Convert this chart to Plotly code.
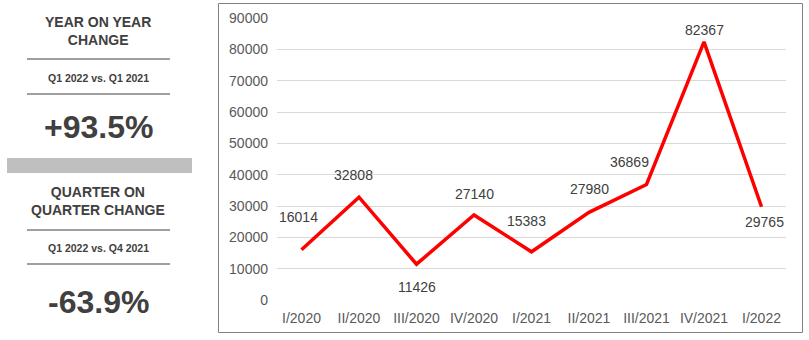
import plotly.graph_objects as go

categories = ["I/2020", "II/2020", "III/2020", "IV/2020", "I/2021", "II/2021", "III/2021", "IV/2021", "I/2022"]
values = [16014, 32808, 11426, 27140, 15383, 27980, 36869, 82367, 29765]
y_ticks = [0, 10000, 20000, 30000, 40000, 50000, 60000, 70000, 80000, 90000]

yoy_title = "YEAR ON YEAR<br>CHANGE"
yoy_sub = "Q1 2022 vs. Q1 2021"
yoy_value = "+93.5%"
qoq_title = "QUARTER ON<br>QUARTER CHANGE"
qoq_sub = "Q1 2022 vs. Q4 2021"
qoq_value = "-63.9%"

# label offsets (px) per point: (xshift, yshift)
label_offsets = [(-3, 33), (-6, 22), (0, -23), (0, 21), (-5, 31), (0, 23), (-17, 22), (0, 12), (3, -15)]

W, H = 809, 340
FONT = "Liberation Sans, Arial, sans-serif"

def px(x):
    return x / W

def py(y):
    return 1 - y / H

fig = go.Figure()
fig.add_trace(go.Scatter(
    x=categories, y=values, mode="lines",
    line=dict(color="#FF0000", width=3.5),
    hoverinfo="x+y", showlegend=False,
))

annotations = []
for c, v, (dx, dy) in zip(categories, values, label_offsets):
    annotations.append(dict(
        x=c, y=v, xref="x", yref="y", text=str(v), showarrow=False,
        xshift=dx, yshift=dy, font=dict(family=FONT, size=14, color="#404040"),
    ))

def panel_text(text, y, size, bold=True):
    annotations.append(dict(
        x=px(98), y=py(y), xref="paper", yref="paper", text=f"<b>{text}</b>" if bold else text,
        showarrow=False, xanchor="center", yanchor="middle",
        font=dict(family=FONT, size=size, color="#404040"), align="center",
    ))

panel_text(yoy_title, 31, 14)
panel_text(yoy_sub, 78, 10.5)
panel_text(yoy_value, 127, 32)
panel_text(qoq_title, 201, 14)
panel_text(qoq_sub, 248, 10.5)
panel_text(qoq_value, 302, 32)

shapes = []
# chart border
shapes.append(dict(type="rect", xref="paper", yref="paper",
                   x0=px(218.5), x1=px(802.5), y0=py(332.5), y1=py(3.5),
                   line=dict(color="#808080", width=1), fillcolor="rgba(0,0,0,0)", layer="below"))
# left panel separators
for yy in [59, 94, 230, 264]:
    shapes.append(dict(type="line", xref="paper", yref="paper",
                       x0=px(27), x1=px(170), y0=py(yy), y1=py(yy),
                       line=dict(color="#404040", width=1)))
# gray bar
shapes.append(dict(type="rect", xref="paper", yref="paper",
                   x0=px(7), x1=px(192), y0=py(173), y1=py(158),
                   line=dict(width=0), fillcolor="#BFBFBF"))

fig.update_layout(
    width=W, height=H,
    margin=dict(l=0, r=0, t=0, b=0, autoexpand=False),
    paper_bgcolor="white", plot_bgcolor="white",
    font=dict(family=FONT),
    xaxis=dict(
        domain=[px(277), px(786)],
        type="category", categoryorder="array", categoryarray=categories,
        showgrid=False, showline=False, zeroline=False, ticks="",
        tickfont=dict(family=FONT, size=14, color="#595959"),
        ticklabelstandoff=8, automargin=False,
    ),
    yaxis=dict(
        domain=[py(300), py(18)],
        range=[0, 90000], tickvals=y_ticks, ticktext=[str(t) for t in y_ticks],
        showgrid=True, gridcolor="#D9D9D9", gridwidth=1,
        zeroline=False, showline=False, ticks="",
        tickfont=dict(family=FONT, size=14, color="#595959"),
        ticklabelstandoff=8, automargin=False,
    ),
    annotations=annotations,
    shapes=shapes,
)

fig.write_html("out.html")
